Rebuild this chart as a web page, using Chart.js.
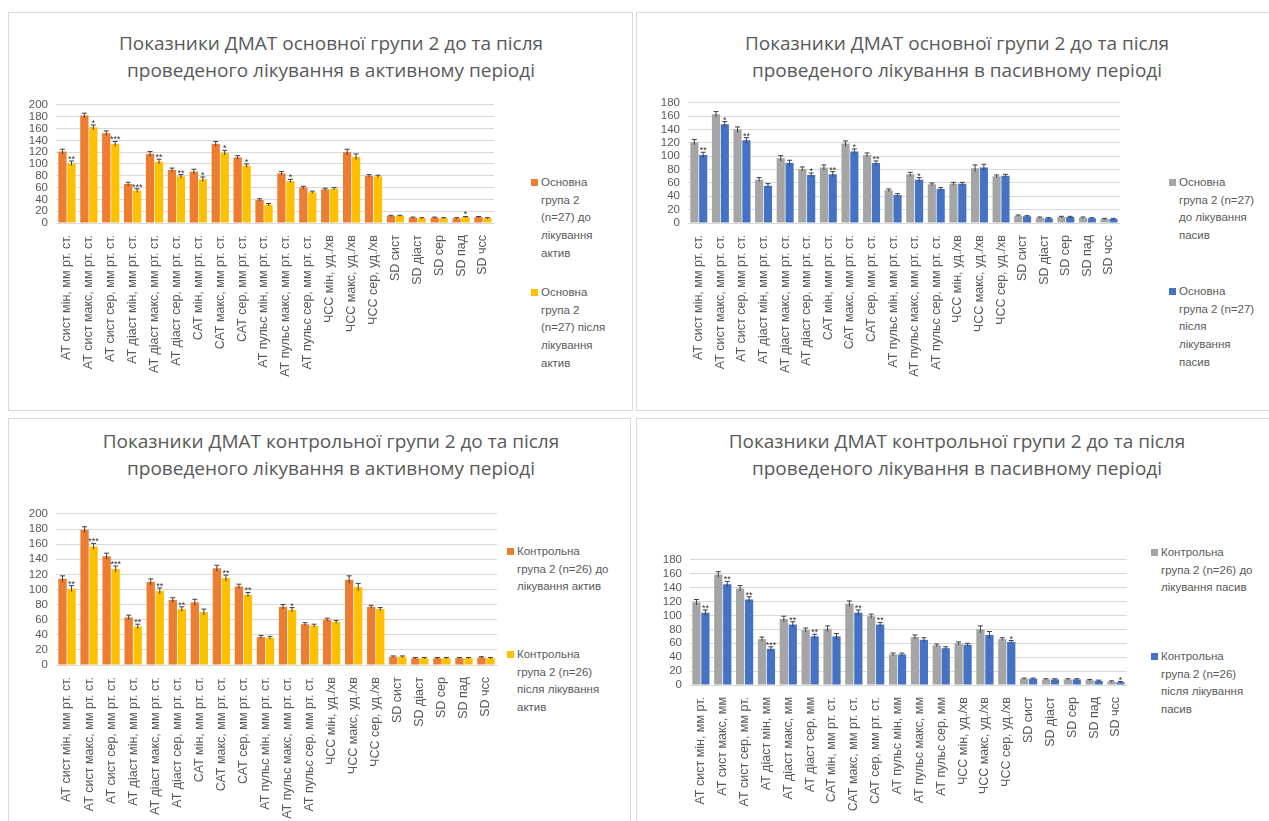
<!DOCTYPE html>
<html><head><meta charset="utf-8">
<script src="https://cdn.jsdelivr.net/npm/chart.js@4.4.1/dist/chart.umd.min.js"></script>
<style>
html,body{margin:0;padding:0;background:#fff;width:1269px;height:821px;overflow:hidden;font-family:"Open Sans",sans-serif;}
.panel{position:absolute;border:1px solid #d9d9d9;box-sizing:border-box;background:#fff;}
.title{position:absolute;text-align:center;color:#595959;font-size:19px;line-height:27px;}
.cv{position:absolute;}
.leg{position:absolute;color:#595959;font-size:11.5px;line-height:17.7px;font-family:"Liberation Sans",sans-serif;white-space:nowrap;}
.leg .sw{position:absolute;left:-10px;top:5px;width:7px;height:7px;}
</style></head><body>
<div class="panel" style="left:8px;top:12px;width:625px;height:399px"></div>
<div class="panel" style="left:636px;top:12px;width:640px;height:399px"></div>
<div class="panel" style="left:8px;top:418px;width:623px;height:410px"></div>
<div class="panel" style="left:636px;top:418px;width:640px;height:410px"></div>

<div class="title" style="left:20px;top:30px;width:622px">Показники ДМАТ основної групи 2 до та після<br>проведеного лікування в активному періоді</div>
<div class="title" style="left:646px;top:30px;width:622px">Показники ДМАТ основної групи 2 до та після<br>проведеного лікування в пасивному періоді</div>
<div class="title" style="left:20px;top:428px;width:622px">Показники ДМАТ контрольної групи 2 до та після<br>проведеного лікування в активному періоді</div>
<div class="title" style="left:646px;top:428px;width:622px">Показники ДМАТ контрольної групи 2 до та після<br>проведеного лікування в пасивному періоді</div>

<div class="cv" style="left:20px;top:90px;width:482px;height:293px"><canvas id="c1"></canvas></div>
<div class="cv" style="left:652px;top:88px;width:476px;height:295px"><canvas id="c2"></canvas></div>
<div class="cv" style="left:20px;top:499px;width:485px;height:326px"><canvas id="c3"></canvas></div>
<div class="cv" style="left:654px;top:545px;width:481px;height:276px"><canvas id="c4"></canvas></div>

<div class="leg" style="left:541px;top:174px"><span class="sw" style="background:#ED7D31"></span>Основна<br>група 2<br>(n=27) до<br>лікування<br>актив</div>
<div class="leg" style="left:541px;top:284px"><span class="sw" style="background:#FFC000"></span>Основна<br>група 2<br>(n=27) після<br>лікування<br>актив</div>
<div class="leg" style="left:1179px;top:174px"><span class="sw" style="background:#A5A5A5"></span>Основна<br>група 2 (n=27)<br>до лікування<br>пасив</div>
<div class="leg" style="left:1179px;top:283px"><span class="sw" style="background:#4472C4"></span>Основна<br>група 2 (n=27)<br>після<br>лікування<br>пасив</div>
<div class="leg" style="left:517px;top:543px"><span class="sw" style="background:#ED7D31"></span>Контрольна<br>група 2 (n=26) до<br>лікування актив</div>
<div class="leg" style="left:517px;top:646px"><span class="sw" style="background:#FFC000"></span>Контрольна<br>група 2 (n=26)<br>після лікування<br>актив</div>
<div class="leg" style="left:1161px;top:544px"><span class="sw" style="background:#A5A5A5"></span>Контрольна<br>група 2 (n=26) до<br>лікування пасив</div>
<div class="leg" style="left:1161px;top:648px"><span class="sw" style="background:#4472C4"></span>Контрольна<br>група 2 (n=26)<br>після лікування<br>пасив</div>

<script>
const categoriesFull = ["АТ сист мін, мм рт. ст.","АТ сист макс, мм рт. ст.","АТ сист сер, мм рт. ст.","АТ діаст мін, мм рт. ст.","АТ діаст макс, мм рт. ст.","АТ діаст сер, мм рт. ст.","САТ мін, мм рт. ст.","САТ макс, мм рт. ст.","САТ сер, мм рт. ст.","АТ пульс мін, мм рт. ст.","АТ пульс макс, мм рт. ст.","АТ пульс сер, мм рт. ст.","ЧСС мін, уд./хв","ЧСС макс, уд./хв","ЧСС сер, уд./хв","SD сист","SD діаст","SD сер","SD пад","SD чсс"];
const categoriesShort = ["АТ сист мін, мм рт.","АТ сист макс, мм","АТ сист сер, мм рт.","АТ діаст мін, мм","АТ діаст макс, мм","АТ діаст сер, мм","САТ мін, мм рт. ст.","САТ макс, мм рт. ст.","САТ сер, мм рт. ст.","АТ пульс мін, мм","АТ пульс макс, мм","АТ пульс сер, мм","ЧСС мін, уд./хв","ЧСС макс, уд./хв","ЧСС сер, уд./хв","SD сист","SD діаст","SD сер","SD пад","SD чсс"];

const mainActiveBefore = [121,182,152,66,117,90,87,134,111,39,84,60,57,120,80,12,9,9,8,10];
const mainActiveAfter  = [101,162,134,55,104,79,74,119,97,31,71,52,58,112,79,12,8,8,10,8];
const mainPassiveBefore = [121,163,140,65,97,81,83,119,102,49,73,58,59,82,70,11,8,9,8,6];
const mainPassiveAfter  = [102,148,124,56,90,72,73,107,90,42,65,51,59,83,71,10,7,9,7,6];
const ctrlActiveBefore = [114,179,144,63,110,86,83,128,104,37,77,54,60,113,77,11,9,9,9,10];
const ctrlActiveAfter  = [101,157,127,51,98,74,70,115,93,36,73,52,57,103,74,11,9,9,9,9];
const ctrlPassiveBefore = [119,159,139,66,95,79,81,117,99,44,69,57,60,80,66,9,8,8,7,5];
const ctrlPassiveAfter  = [104,145,123,52,87,70,70,104,87,44,65,53,58,72,62,9,8,8,6,4];

const errBig = [4,4,4,3,4,3,4,4,3,2,3,2,2,5,2,1,1,1,1,1];
const starsMainActive = ["**","*","***","***","**","**","*","*","*","","*","","","","","","","","*",""];
const starsMainPassive = ["**","*","**","","","*","**","*","**","","*","","","","","","","","",""];
const starsCtrlActive = ["**","***","***","**","**","**","","**","**","","*","","","","","","","","",""];
const starsCtrlPassive = ["**","**","**","***","**","**","","**","**","","","","","","*","","","","","*"];

const yTicksA = [0,20,40,60,80,100,120,140,160,180,200];
const yTicksP = [0,20,40,60,80,100,120,140,160,180];

const errPlugin = {
  id:'errbars',
  afterDatasetsDraw(chart){
    const ctx = chart.ctx, ys = chart.scales.y;
    chart.data.datasets.forEach((ds,i)=>{
      const meta = chart.getDatasetMeta(i);
      meta.data.forEach((el,j)=>{
        const v = ds.data[j], e = ds.err[j];
        const yt = ys.getPixelForValue(v+e), yb = ys.getPixelForValue(v-e);
        ctx.save();
        ctx.strokeStyle = '#404040'; ctx.lineWidth = 1;
        ctx.beginPath();
        ctx.moveTo(el.x, yb); ctx.lineTo(el.x, yt);
        ctx.moveTo(el.x-2.5, yt); ctx.lineTo(el.x+2.5, yt);
        ctx.stroke();
        if (ds.stars && ds.stars[j]) {
          ctx.fillStyle = '#333';
          ctx.font = '9px "Liberation Sans"';
          ctx.textAlign = 'center'; ctx.textBaseline = 'bottom';
          ctx.fillText(ds.stars[j], el.x, yt+3);
        }
        ctx.restore();
      });
    });
  }
};

function makeChart(id, labels, before, after, stars, c1, c2, max, ticks, xh){
  new Chart(document.getElementById(id), {
    type:'bar',
    data:{labels:labels, datasets:[
      {label:'before', data:before, err:errBig, backgroundColor:c1, categoryPercentage:0.82, barPercentage:0.92},
      {label:'after', data:after, err:errBig, stars:stars, backgroundColor:c2, categoryPercentage:0.82, barPercentage:0.92}
    ]},
    options:{
      responsive:true, maintainAspectRatio:false, animation:false,
      layout:{padding:{top:0,right:0,left:0,bottom:0}},
      plugins:{legend:{display:false}, tooltip:{enabled:false}},
      scales:{
        x:{grid:{display:false}, border:{display:true,color:'#d9d9d9'},
           ticks:{color:'#595959', autoSkip:false, minRotation:90, maxRotation:90, padding:4, font:{family:'Liberation Sans', size:12.5}},
           afterFit(s){ s.height = xh; }},
        y:{min:0, max:max, afterBuildTicks(s){ s.ticks = ticks.map(v=>({value:v})); },
           grid:{color:'#d9d9d9', drawTicks:false}, border:{display:false},
           ticks:{color:'#595959', autoSkip:false, padding:8, font:{family:'Liberation Sans', size:11.5}},
           afterFit(s){ s.width = 36; }}
      }
    },
    plugins:[errPlugin]
  });
}
makeChart('c1', categoriesFull, mainActiveBefore, mainActiveAfter, starsMainActive, '#ED7D31', '#FFC000', 200, yTicksA, 160);
makeChart('c2', categoriesFull, mainPassiveBefore, mainPassiveAfter, starsMainPassive, '#A5A5A5', '#4472C4', 180, yTicksP, 160);
makeChart('c3', categoriesFull, ctrlActiveBefore, ctrlActiveAfter, starsCtrlActive, '#ED7D31', '#FFC000', 200, yTicksA, 160);
makeChart('c4', categoriesShort, ctrlPassiveBefore, ctrlPassiveAfter, starsCtrlPassive, '#A5A5A5', '#4472C4', 180, yTicksP, 136);
</script>
</body></html>
